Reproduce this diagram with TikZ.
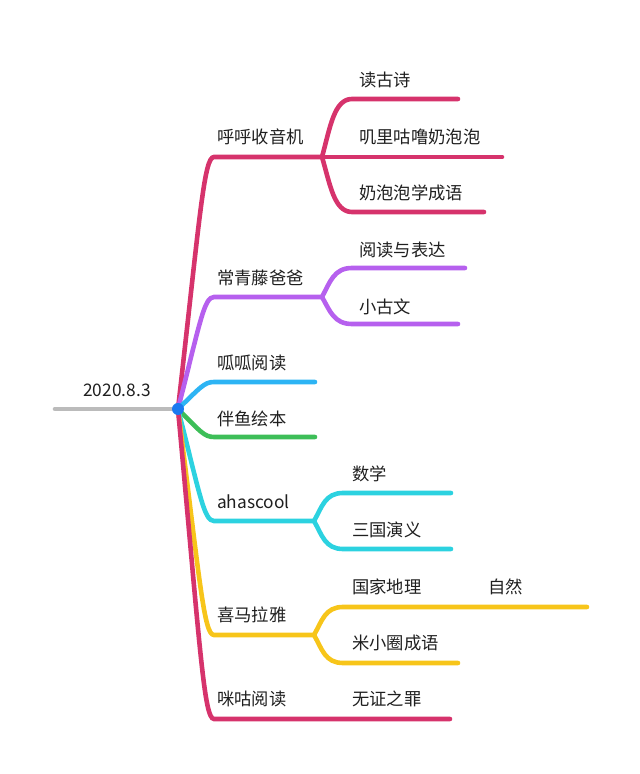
\documentclass[tikz,border=0pt]{standalone}
\usepackage{fontspec}
\setmainfont{Noto Sans CJK SC}
\definecolor{cRose}{HTML}{D6336C}
\definecolor{cViolet}{HTML}{B660EE}
\definecolor{cSky}{HTML}{2DB4F4}
\definecolor{cGreen}{HTML}{3DBE58}
\definecolor{cCyan}{HTML}{2CD2E0}
\definecolor{cAmber}{HTML}{F7C51A}
\definecolor{cGrey}{HTML}{BBBBBB}
\definecolor{cDot}{HTML}{1A7AF0}
\tikzset{
    x=1pt, y=1pt,
    rama/.style={line width=4.6pt, line cap=round},
    lbl/.style={anchor=west, inner sep=0pt, text=black!88,
                font=\fontsize{17.3}{20}\selectfont},
}

\begin{document}
\begin{tikzpicture}
    \useasboundingbox (0,0) rectangle (640,774);

    % tronco
    \coordinate (inicio) at (55,365);
    \coordinate (raiz) at (178,365);
    \draw[rama, cGrey] (inicio) -- (raiz);
    \node[lbl, anchor=center] (fecha) at (117,384) {2020.8.3};

    % puntos de las ramas
    \coordinate (b1) at (214,617);  \coordinate (j1) at (322,617);
    \coordinate (b2) at (214,477);  \coordinate (j2) at (322,477);
    \coordinate (b3) at (214,392);  \coordinate (e3) at (315,392);
    \coordinate (b4) at (214,337);  \coordinate (e4) at (315,337);
    \coordinate (b5) at (214,253);  \coordinate (j5) at (314,253);
    \coordinate (b6) at (214,139);  \coordinate (j6) at (314,139);
    \coordinate (b7) at (214,55);   \coordinate (e7) at (450,55);

    \draw[rama, cRose]   (raiz) .. controls +(22,194) and +(-10,0) .. (b1) -- (j1);
    \draw[rama, cViolet] (raiz) .. controls +(22,86) and +(-10,0) .. (b2) -- (j2);
    \draw[rama, cSky]    (raiz) .. controls +(22,21) and +(-10,0) .. (b3) -- (e3);
    \draw[rama, cGreen]  (raiz) .. controls +(22,-22) and +(-10,0) .. (b4) -- (e4);
    \draw[rama, cCyan]   (raiz) .. controls +(22,-86) and +(-10,0) .. (b5) -- (j5);
    \draw[rama, cAmber]  (raiz) .. controls +(22,-174) and +(-10,0) .. (b6) -- (j6);
    \draw[rama, cRose]   (raiz) .. controls +(22,-239) and +(-10,0) .. (b7) -- (e7);

    % hijos
    \coordinate (h1a) at (352,675);  \coordinate (f1a) at (458,675);
    \coordinate (f1b) at (502,617);
    \coordinate (h1c) at (352,562);  \coordinate (f1c) at (484,562);
    \draw[rama, cRose] (j1) .. controls +(8,29) and +(-18,0) .. (h1a) -- (f1a);
    \draw[rama, cRose] (j1) -- (f1b);
    \draw[rama, cRose] (j1) .. controls +(8,-27) and +(-18,0) .. (h1c) -- (f1c);

    \coordinate (h2a) at (352,506);  \coordinate (f2a) at (465,506);
    \coordinate (h2b) at (352,450);  \coordinate (f2b) at (458,450);
    \draw[rama, cViolet] (j2) .. controls +(8,15) and +(-18,0) .. (h2a) -- (f2a);
    \draw[rama, cViolet] (j2) .. controls +(8,-14) and +(-18,0) .. (h2b) -- (f2b);

    \coordinate (h5a) at (343,281);  \coordinate (f5a) at (451,281);
    \coordinate (h5b) at (343,225);  \coordinate (f5b) at (451,225);
    \draw[rama, cCyan] (j5) .. controls +(8,14) and +(-18,0) .. (h5a) -- (f5a);
    \draw[rama, cCyan] (j5) .. controls +(8,-14) and +(-18,0) .. (h5b) -- (f5b);

    \coordinate (h6a) at (343,167);  \coordinate (f6a) at (587,167);
    \coordinate (h6b) at (343,111);  \coordinate (f6b) at (458,111);
    \draw[rama, cAmber] (j6) .. controls +(8,14) and +(-18,0) .. (h6a) -- (f6a);
    \draw[rama, cAmber] (j6) .. controls +(8,-14) and +(-18,0) .. (h6b) -- (f6b);

    \fill[cDot] (raiz) circle (6);

    % textos
    \node[lbl] (t1) at (217,637) {呼呼收音机};
    \node[lbl] (t1a) at (359,694) {读古诗};
    \node[lbl] (t1b) at (359,637) {叽里咕噜奶泡泡};
    \node[lbl] (t1c) at (359,581) {奶泡泡学成语};
    \node[lbl] (t2) at (217,496) {常青藤爸爸};
    \node[lbl] (t2a) at (359,524) {阅读与表达};
    \node[lbl] (t2b) at (359,467) {小古文};
    \node[lbl] (t3) at (217,411) {呱呱阅读};
    \node[lbl] (t4) at (217,355) {伴鱼绘本};
    \node[lbl] (t5) at (217,272) {ahascool};
    \node[lbl] (t5a) at (352,300) {数学};
    \node[lbl] (t5b) at (352,244) {三国演义};
    \node[lbl] (t6) at (217,159) {喜马拉雅};
    \node[lbl] (t6a) at (352,187) {国家地理};
    \node[lbl] (t6c) at (488,187) {自然};
    \node[lbl] (t6b) at (352,131) {米小圈成语};
    \node[lbl] (t7) at (217,75) {咪咕阅读};
    \node[lbl] (t7a) at (352,75) {无证之罪};
\end{tikzpicture}
\end{document}
